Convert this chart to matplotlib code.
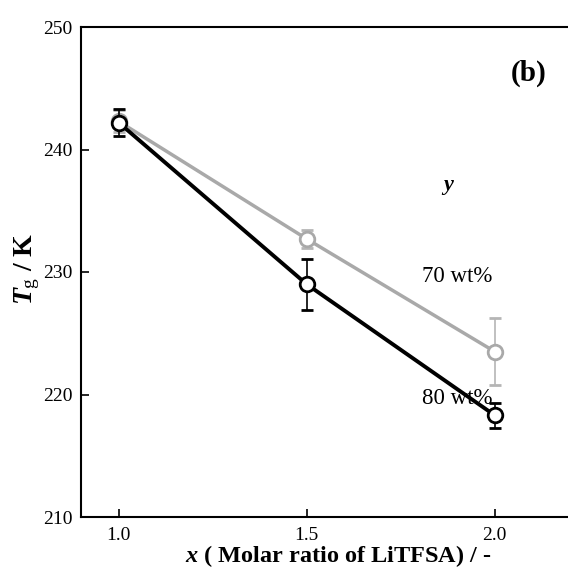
import matplotlib
matplotlib.use("Agg")
import matplotlib.pyplot as plt

x = [1.0, 1.5, 2.0]
tg_70 = [242.3, 232.7, 223.5]
err_70 = [0.9, 0.7, 2.75]
tg_80 = [242.2, 229.0, 218.3]
err_80 = [1.1, 2.1, 1.0]
xticks = [1.0, 1.5, 2.0]
yticks = [210, 220, 230, 240, 250]

plt.rcParams['font.family'] = ['Liberation Serif', 'DejaVu Serif']
plt.rcParams['mathtext.fontset'] = 'custom'
plt.rcParams['mathtext.rm'] = 'Liberation Serif'
plt.rcParams['mathtext.it'] = 'Liberation Serif:italic:bold'
plt.rcParams['mathtext.bf'] = 'Liberation Serif:bold'

fig = plt.figure(figsize=(5.68, 5.68), dpi=100)
W, H = 568, 568
ax = fig.add_axes([81 / W, 1 - 517 / H, (570 - 81) / W, (517 - 27) / H])

gray = '#a9a9a9'
ax.errorbar(x, tg_70, yerr=err_70, color=gray, lw=2.5, marker='o', ms=10.5,
            mfc='white', mec=gray, mew=2, ecolor='#b5b5b5', elinewidth=1.2,
            capsize=4, capthick=1.2, zorder=2)
ax.errorbar(x, tg_80, yerr=err_80, color='black', lw=2.8, marker='o', ms=10.5,
            mfc='white', mec='black', mew=2, ecolor='black', elinewidth=1.2,
            capsize=4, capthick=1.2, zorder=3)

ax.set_xlim(0.9, 2.2)
ax.set_ylim(210, 250)
ax.set_xticks(xticks)
ax.set_xticklabels([f"{v:.1f}" for v in xticks])
ax.set_yticks(yticks)
ax.tick_params(direction='in', length=6, width=1.2, labelsize=14, pad=6)
ax.tick_params(axis='x', pad=7)
for s in ['left', 'bottom', 'top']:
    ax.spines[s].set_linewidth(1.5)
ax.spines['right'].set_visible(False)

fig.text(338 / W, 6 / H, r'$x$ ( Molar ratio of LiTFSA) / -', fontsize=17.5,
         fontweight='bold', ha='center', va='baseline')
fig.text(27 / W, 1 - 269 / H, r'$T_{\mathrm{g}}$ / K', fontsize=20, fontweight='bold',
         rotation=90, ha='center', va='center')

ax.text(1.3 * (529 - 81) / 489 + 0.9, 250 - (73.5 - 27) / 12.25, '(b)', fontsize=21,
        fontweight='bold', ha='center', va='center')
ax.text(1.876, 237.1, 'y', fontsize=16, fontweight='bold', style='italic', ha='center', va='center')
ax.text(1.9, 229.6, '70 wt%', fontsize=16.5, ha='center', va='center')
ax.text(1.9, 219.7, '80 wt%', fontsize=16.5, ha='center', va='center')

fig.savefig('out.png', dpi=100, facecolor='white')
